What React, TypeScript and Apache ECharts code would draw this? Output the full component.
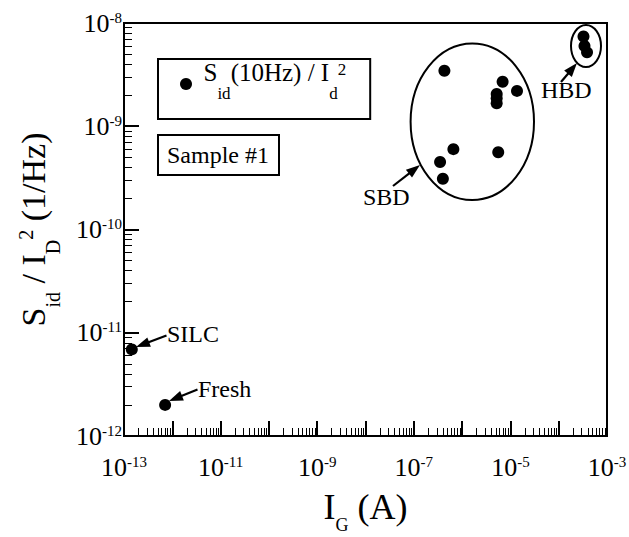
import React, { useEffect, useRef } from "react";
import * as echarts from "echarts";

// ---- data ----
const freshPoints: number[][] = [[7.1e-13, 2.0e-12]];
const silcPoints: number[][] = [[1.45e-13, 6.9e-12]];
const sbdPoints: number[][] = [
  [4.3e-7, 3.45e-9],
  [6.9e-6, 2.7e-9],
  [1.37e-5, 2.2e-9],
  [5.2e-6, 2.05e-9],
  [5.2e-6, 1.87e-9],
  [5.2e-6, 1.67e-9],
  [6.6e-7, 6.0e-10],
  [3.5e-7, 4.5e-10],
  [4.0e-7, 3.1e-10],
  [5.6e-6, 5.6e-10],
];
const hbdPoints: number[][] = [
  [3.26e-4, 7.4e-9],
  [3.42e-4, 6.0e-9],
  [3.86e-4, 5.2e-9],
];

// ---- axes ----
const X_MIN = 1e-13;
const X_MAX = 1e-3;
const Y_MIN = 1e-12;
const Y_MAX = 1e-8;
const xLabelExponents = [-13, -11, -9, -7, -5, -3];
const yLabelExponents = [-12, -11, -10, -9, -8];

const legendName = "Sid";
const sampleText = "Sample #1";

const FONT = '"Liberation Serif", "Times New Roman", Times, serif';
const BLACK = "#000";

const makeFormatter = (shown: number[]) => (v: number) => {
  const e = Math.round(Math.log10(v));
  return shown.indexOf(e) >= 0 ? `{b|10}{e|${e}}` : "";
};

const tickRich = {
  b: { fontFamily: FONT, fontSize: 26, lineHeight: 26, fontWeight: "normal", color: BLACK },
  e: { fontFamily: FONT, fontSize: 15, verticalAlign: "top", fontWeight: "normal", color: BLACK },
};

function makeAxis(kind: "x" | "y", min: number, max: number, extra: any = {}) {
  const shown = kind === "x" ? xLabelExponents : yLabelExponents;
  return {
    type: "log",
    min,
    max,
    axisLine: { lineStyle: { color: BLACK, width: 2 } },
    axisTick: { show: true, inside: true, length: 15, lineStyle: { color: BLACK, width: 2 } },
    minorTick: { show: true, splitNumber: 9, length: 8, lineStyle: { color: BLACK } },
    axisLabel: {
      formatter: makeFormatter(shown),
      margin: kind === "x" ? 18 : 2,
      rich: tickRich,
      fontFamily: FONT,
      color: BLACK,
    },
    splitLine: { show: false },
    ...extra,
  };
}

function arrow(x1: number, y1: number, x2: number, y2: number) {
  const L = 14;
  const Wd = 5;
  const dx = x2 - x1;
  const dy = y2 - y1;
  const len = Math.hypot(dx, dy);
  const ux = dx / len;
  const uy = dy / len;
  const bx = x2 - ux * L;
  const by = y2 - uy * L;
  const px = -uy * Wd;
  const py = ux * Wd;
  return [
    { type: "line", z: 100, shape: { x1, y1, x2: bx + ux * 2, y2: by + uy * 2 }, style: { stroke: BLACK, lineWidth: 2.2 } },
    {
      type: "polygon",
      z: 100,
      shape: { points: [[x2, y2], [bx + px, by + py], [bx - px, by - py]] },
      style: { fill: BLACK },
    },
  ];
}

function label(text: string, x: number, y: number) {
  return {
    type: "text",
    z: 100,
    x,
    y,
    style: { text, fontFamily: FONT, fontSize: 24, fill: BLACK, align: "left", verticalAlign: "middle" },
  };
}

const annotations: any[] = [
  {
    type: "ellipse",
    z: 100,
    shape: { cx: 472.3, cy: 121.7, rx: 61.7, ry: 78.3 },
    style: { fill: "none", stroke: BLACK, lineWidth: 2 },
  },
  {
    type: "ellipse",
    z: 100,
    shape: { cx: 586, cy: 46, rx: 15, ry: 21 },
    style: { fill: "none", stroke: BLACK, lineWidth: 2 },
  },
  ...arrow(166.5, 335.5, 136, 347),
  ...arrow(197.5, 389.5, 169, 401),
  ...arrow(393, 186, 420, 165),
  ...arrow(561, 82, 577, 63),
  label("SILC", 167, 334),
  label("Fresh", 198, 389),
  label("SBD", 363, 196.5),
  label("HBD", 541, 90),
];

export default function App() {
  const ref = useRef<HTMLDivElement>(null);

  useEffect(() => {
    document.body.style.margin = "0";
    const chart = echarts.init(ref.current!, null, { renderer: "svg" });
    const allPoints = [...freshPoints, ...silcPoints, ...sbdPoints, ...hbdPoints];

    const option: any = {
      animation: false,
      grid: {
        left: 124,
        right: 22,
        top: 23,
        bottom: 101,
        outerBoundsMode: "none",
        show: true,
        borderColor: BLACK,
        borderWidth: 2,
        backgroundColor: "transparent",
      },
      title: {
        text: sampleText,
        left: 158,
        top: 135,
        padding: [6, 10, 6, 9],
        borderColor: BLACK,
        borderWidth: 2,
        textStyle: { fontFamily: FONT, fontSize: 24, fontWeight: "normal", color: BLACK, lineHeight: 28 },
      },
      legend: {
        data: [legendName],
        left: 158,
        top: 59,
        orient: "horizontal",
        padding: [1, 24, 17, 22],
        borderColor: BLACK,
        borderWidth: 2,
        icon: "circle",
        itemWidth: 25,
        itemHeight: 12,
        itemStyle: { color: BLACK, opacity: 1 },
        formatter: () => "{m|S}{s|id}{m|(10Hz) / I}{s|d}{p|2}",
        textStyle: {
          fontFamily: FONT,
          fontSize: 25,
          color: BLACK,
          rich: {
            m: { fontFamily: FONT, fontSize: 25, lineHeight: 48, verticalAlign: "top", fontWeight: "normal", color: BLACK },
            s: { fontFamily: FONT, fontSize: 17, verticalAlign: "top", padding: [25, 0, 0, 0], fontWeight: "normal", color: BLACK },
            p: { fontFamily: FONT, fontSize: 17, verticalAlign: "top", padding: [1, 0, 0, 0], fontWeight: "normal", color: BLACK },
          },
        },
      },
      xAxis: makeAxis("x", X_MIN, X_MAX, {
        name: "{m|I}{s|G}{m| (A)}",
        nameLocation: "middle",
        nameGap: 53,
        nameTextStyle: {
          fontFamily: FONT,
          fontWeight: "normal",
          rich: {
            m: { fontFamily: FONT, fontSize: 36, lineHeight: 46, verticalAlign: "top", fontWeight: "normal", color: BLACK },
            s: { fontFamily: FONT, fontSize: 18, verticalAlign: "top", padding: [27, 0, 0, 0], fontWeight: "normal", color: BLACK },
          },
        },
      }),
      yAxis: makeAxis("y", Y_MIN, Y_MAX, {
        name: "{m|S}{s|id}{m| / I}{s|D}{p|2}{m| (1/Hz)}",
        nameLocation: "middle",
        nameGap: 58,
        nameTextStyle: {
          fontFamily: FONT,
          fontWeight: "normal",
          rich: {
            m: { fontFamily: FONT, fontSize: 34, lineHeight: 50, verticalAlign: "top", fontWeight: "normal", color: BLACK },
            s: { fontFamily: FONT, fontSize: 20, verticalAlign: "top", padding: [27, 0, 0, 0], fontWeight: "normal", color: BLACK },
            p: { fontFamily: FONT, fontSize: 20, verticalAlign: "top", fontWeight: "normal", color: BLACK },
          },
        },
      }),
      series: [
        {
          name: legendName,
          type: "scatter",
          data: allPoints,
          symbol: "circle",
          symbolSize: 12,
          itemStyle: { color: BLACK, opacity: 1 },
          z: 5,
        },
      ],
      graphic: annotations,
    };

    chart.setOption(option);
    return () => chart.dispose();
  }, []);

  return <div ref={ref} style={{ position: "absolute", left: 0, top: 0, width: 629, height: 537 }} />;
}
